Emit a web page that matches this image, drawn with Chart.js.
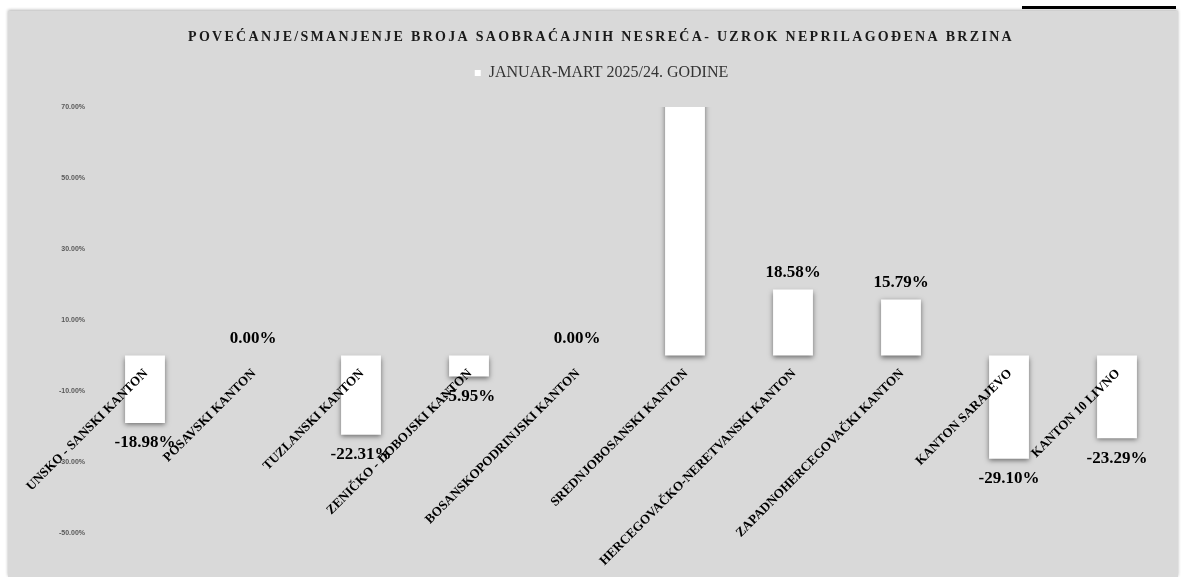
<!DOCTYPE html>
<html lang="bs">
<head>
<meta charset="UTF-8">
<title>Povećanje/smanjenje broja saobraćajnih nesreća</title>
<script src="https://cdn.jsdelivr.net/npm/chart.js@4.4.3/dist/chart.umd.min.js"></script>
<style>
    body {
        margin: 0;
        width: 1186px;
        height: 577px;
        overflow: hidden;
        position: relative;
        background: #fff;
    }
    .topline {
        position: absolute;
        left: 1022px;
        top: 6px;
        width: 154px;
        height: 3px;
        background: #000;
    }
    .box {
        position: absolute;
        left: 8px;
        top: 11px;
        width: 1170px;
        height: 566px;
        background: #d9d9d9;
        box-shadow: 0 -1px 3px rgba(0, 0, 0, 0.3);
    }
</style>
</head>
<body>
<div class="topline"></div>
<div class="box"><canvas id="chart"></canvas></div>

<script>
    // data
    const titleText = 'POVEĆANJE/SMANJENJE BROJA SAOBRAĆAJNIH NESREĆA- UZROK NEPRILAGOĐENA BRZINA';
    const seriesName = 'JANUAR-MART 2025/24. GODINE';
    const categories = [
        'UNSKO - SANSKI KANTON',
        'POSAVSKI KANTON',
        'TUZLANSKI KANTON',
        'ZENIČKO - DOBOJSKI KANTON',
        'BOSANSKOPODRINJSKI KANTON',
        'SREDNJOBOSANSKI KANTON',
        'HERCEGOVAČKO-NERETVANSKI KANTON',
        'ZAPADNOHERCEGOVAČKI KANTON',
        'KANTON SARAJEVO',
        'KANTON 10 LIVNO'
    ];
    // Srednjobosanski goes past the top of the axis in the picture
    const changePct = [-18.98, 0, -22.31, -5.95, 0, 100, 18.58, 15.79, -29.10, -23.29];
    const yMin = -50, yMax = 70, yStep = 20;

    const serif = '"Liberation Serif", "DejaVu Serif", serif';

    // title with letter spacing (canvas only)
    const spacedTitle = {
        id: 'spacedTitle',
        afterDraw(chart) {
            const ctx = chart.ctx;
            ctx.save();
            ctx.font = 'bold 14px ' + serif;
            ctx.letterSpacing = '2.3px';
            ctx.fillStyle = '#1a1a1a';
            ctx.textAlign = 'center';
            ctx.textBaseline = 'middle';
            ctx.fillText(titleText, 593, 26);
            ctx.restore();
        }
    };

    // white bars with a soft drop shadow
    const barShadow = {
        id: 'barShadow',
        beforeDatasetsDraw(chart) {
            const ctx = chart.ctx;
            ctx.save();
            ctx.shadowColor = 'rgba(0, 0, 0, 0.5)';
            ctx.shadowBlur = 5;
            ctx.shadowOffsetX = 0;
            ctx.shadowOffsetY = 2;
        },
        afterDatasetsDraw(chart) {
            chart.ctx.restore();
        }
    };

    // value labels and category labels next to the zero line
    const barLabels = {
        id: 'barLabels',
        afterDraw(chart) {
            const ctx = chart.ctx;
            const x = chart.scales.x, y = chart.scales.y;
            const zeroY = y.getPixelForValue(0);
            ctx.save();
            ctx.fillStyle = '#000';

            ctx.font = 'bold 17px ' + serif;
            ctx.textAlign = 'center';
            ctx.textBaseline = 'middle';
            changePct.forEach((v, i) => {
                if (v > yMax || v < yMin) return;
                const px = x.getPixelForValue(i);
                const py = y.getPixelForValue(v);
                ctx.fillText(v.toFixed(2) + '%', px, v >= 0 ? py - 17 : py + 20);
            });

            ctx.font = 'bold 13px ' + serif;
            ctx.textAlign = 'right';
            categories.forEach((c, i) => {
                const px = x.getPixelForValue(i);
                ctx.save();
                ctx.translate(px + 1, zeroY + 16);
                ctx.rotate(-Math.PI / 4);
                ctx.fillText(c, 0, 0);
                ctx.restore();
            });
            ctx.restore();
        }
    };

    new Chart(document.getElementById('chart'), {
        type: 'bar',
        data: {
            labels: categories,
            datasets: [{
                label: seriesName,
                data: changePct,
                backgroundColor: '#ffffff',
                borderWidth: 0,
                barPercentage: 0.9,
                categoryPercentage: 0.41
            }]
        },
        options: {
            responsive: true,
            maintainAspectRatio: false,
            animation: false,
            layout: { padding: { top: 44, left: 24, right: 7, bottom: 44 } },
            plugins: {
                legend: {
                    position: 'top',
                    labels: {
                        boxWidth: 6,
                        boxHeight: 6,
                        color: '#333333',
                        font: { family: serif, size: 16 }
                    }
                },
                subtitle: {
                    display: true,
                    text: '',
                    weight: 500,
                    font: { size: 10 },
                    padding: { top: 0, bottom: 4 }
                },
                tooltip: { enabled: false }
            },
            scales: {
                x: { display: false },
                y: {
                    min: yMin,
                    max: yMax,
                    grid: { display: false, drawTicks: false },
                    border: { display: false },
                    ticks: {
                        stepSize: yStep,
                        padding: 6,
                        color: '#595959',
                        font: { family: '"Liberation Sans", Arial, sans-serif', size: 7, weight: 'bold' },
                        callback: v => v.toFixed(2) + '%'
                    },
                    afterFit: s => { s.width = 59; }
                }
            }
        },
        plugins: [barShadow, barLabels, spacedTitle]
    });
</script>
</body>
</html>
